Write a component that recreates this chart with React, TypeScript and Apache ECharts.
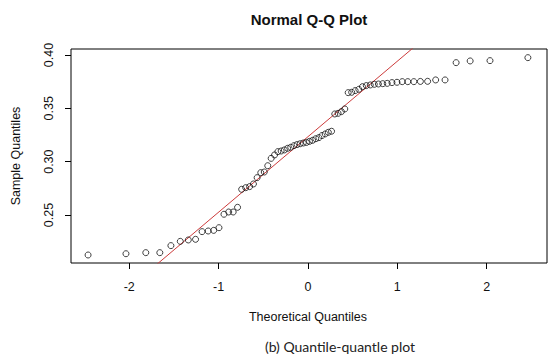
import React, { useEffect, useRef } from "react";
import * as echarts from "echarts";

// Theoretical normal quantiles (x) for the 72 sample points
const theoreticalQuantiles: number[] = [
  -2.461, -2.037, -1.815, -1.658, -1.534, -1.429, -1.339, -1.258, -1.185, -1.117,
  -1.055, -0.996, -0.940, -0.887, -0.837, -0.788, -0.742, -0.697, -0.653, -0.610,
  -0.569, -0.528, -0.489, -0.450, -0.412, -0.374, -0.337, -0.300, -0.264, -0.228,
  -0.193, -0.157, -0.122, -0.087, -0.052, -0.017,
  0.017, 0.052, 0.087, 0.122, 0.157, 0.193, 0.228, 0.264, 0.300, 0.337,
  0.374, 0.412, 0.450, 0.489, 0.528, 0.569, 0.610, 0.653, 0.697, 0.742,
  0.788, 0.837, 0.887, 0.940, 0.996, 1.055, 1.117, 1.185, 1.258, 1.339,
  1.429, 1.534, 1.658, 1.815, 2.037, 2.461,
];

// Sample quantiles (y), sorted
const sampleQuantiles: number[] = [
  0.2125, 0.2137, 0.2147, 0.2147, 0.2213, 0.2253, 0.2266, 0.2272, 0.2344, 0.2350,
  0.2356, 0.2381, 0.2507, 0.2528, 0.2528, 0.2572, 0.2741, 0.2756, 0.2766, 0.2791,
  0.2850, 0.2897, 0.2903, 0.2962, 0.3031, 0.3063, 0.3094, 0.3100, 0.3110, 0.3125,
  0.3135, 0.3150, 0.3160, 0.3168, 0.3175, 0.3180, 0.3190, 0.3200, 0.3215, 0.3225,
  0.3245, 0.3260, 0.3275, 0.3285, 0.3447, 0.3453, 0.3469, 0.3494, 0.3647, 0.3650,
  0.3666, 0.3678, 0.3703, 0.3713, 0.3719, 0.3725, 0.3728, 0.3731, 0.3734, 0.3741,
  0.3744, 0.3750, 0.3750, 0.3750, 0.3752, 0.3753, 0.3766, 0.3766, 0.3928, 0.3944,
  0.3947, 0.3975,
];

// Tick labels
const xTicks: number[] = [-2, -1, 0, 1, 2];
const yTicks: number[] = [0.25, 0.3, 0.35, 0.4];

// Reference line (qqline) parameters
const qqLineIntercept = 0.3234;
const qqLineSlope = 0.07075;

const xRange: [number, number] = [-2.652, 2.675];
const yRange: [number, number] = [0.205, 0.4056];

const titleText = "Normal Q-Q Plot";
const xLabel = "Theoretical Quantiles";
const yLabel = "Sample Quantiles";
const captionText = "(b) Quantile-quantle plot";

export default function App() {
  const ref = useRef<HTMLDivElement>(null);

  useEffect(() => {
    if (!ref.current) return;
    const chart = echarts.init(ref.current, null, { renderer: "svg" });

    const points = theoreticalQuantiles.map((x, i) => [x, sampleQuantiles[i]]);
    const linePts = xRange.map((x) => [x, qqLineIntercept + qqLineSlope * x]);

    const axisFont = "'Liberation Sans', Arial, sans-serif";

    chart.setOption({
      animation: false,
      backgroundColor: "#ffffff",
      grid: {
        left: 71,
        right: 6,
        top: 49,
        bottom: 91,
        show: true,
        borderColor: "#000",
        borderWidth: 1,
        backgroundColor: "transparent",
      },
      xAxis: {
        type: "value",
        min: xRange[0],
        max: xRange[1],
        axisLine: { show: false, onZero: false },
        splitLine: { show: false },
        axisTick: {
          show: true,
          length: 6,
          customValues: xTicks,
          lineStyle: { color: "#000", width: 1 },
        },
        axisLabel: {
          customValues: xTicks,
          margin: 17,
          color: "#111",
          fontSize: 12.5,
          fontFamily: axisFont,
          formatter: (v: number) => String(v),
        },
      },
      yAxis: {
        type: "value",
        min: yRange[0],
        max: yRange[1],
        axisLine: { show: false, onZero: false },
        splitLine: { show: false },
        axisTick: {
          show: true,
          length: 6,
          customValues: yTicks,
          lineStyle: { color: "#000", width: 1 },
        },
        axisLabel: {
          customValues: yTicks,
          rotate: 90,
          margin: 16,
          color: "#111",
          fontSize: 12.5,
          fontFamily: axisFont,
          formatter: (v: number) => v.toFixed(2),
        },
      },
      graphic: [
        {
          type: "text",
          x: 309,
          y: 19,
          style: {
            text: titleText,
            fontFamily: axisFont,
            fontWeight: "bold",
            fontSize: 15,
            fill: "#111",
            align: "center",
            verticalAlign: "middle",
          },
        },
        {
          type: "text",
          x: 308,
          y: 317,
          style: {
            text: xLabel,
            fontFamily: axisFont,
            fontSize: 12.5,
            fill: "#111",
            align: "center",
            verticalAlign: "middle",
          },
        },
        {
          type: "text",
          x: 16,
          y: 156,
          rotation: Math.PI / 2,
          style: {
            text: yLabel,
            fontFamily: axisFont,
            fontSize: 12.5,
            fill: "#111",
            align: "center",
            verticalAlign: "middle",
          },
        },
        {
          type: "text",
          x: 340,
          y: 346,
          style: {
            text: captionText,
            fontFamily: "Lato, 'Open Sans', sans-serif",
            fontSize: 14,
            fill: "#222",
            align: "center",
            verticalAlign: "middle",
          },
        },
      ],
      series: [
        {
          type: "line",
          data: linePts,
          showSymbol: false,
          symbol: "none",
          clip: true,
          lineStyle: { color: "#cc3b3b", width: 1 },
          z: 1,
        },
        {
          type: "scatter",
          data: points,
          symbol: "circle",
          symbolSize: 6,
          itemStyle: {
            color: "rgba(255,255,255,0)",
            borderColor: "#111",
            borderWidth: 1,
          },
          z: 2,
        },
      ],
    });

    return () => {
      chart.dispose();
    };
  }, []);

  return (
    <div
      ref={ref}
      style={{ position: "fixed", left: 0, top: 0, width: 553, height: 354 }}
    />
  );
}
